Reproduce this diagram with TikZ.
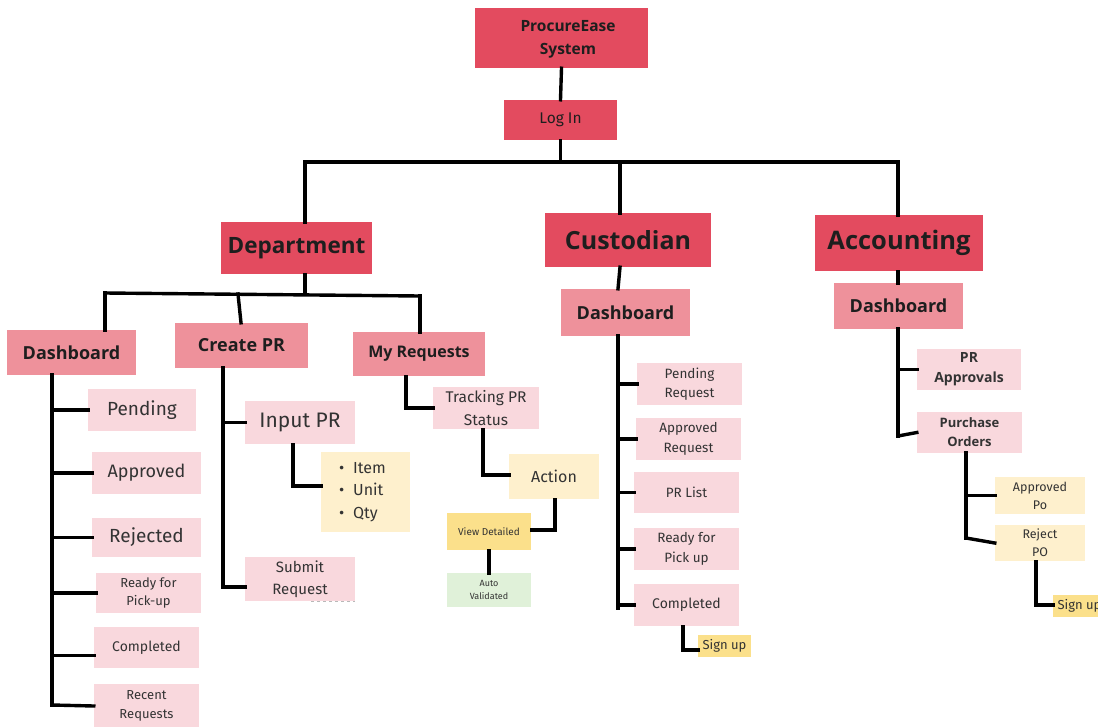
\documentclass[tikz,border=0pt]{standalone}
\usepackage{fontspec}
\setmainfont{Fira Sans}
\newfontfamily\headfont{Open Sans}
\definecolor{topc}{HTML}{E34B5F}
\definecolor{midc}{HTML}{EE919B}
\definecolor{leafc}{HTML}{F9D8DD}
\definecolor{notec}{HTML}{FEF0CD}
\definecolor{goldc}{HTML}{FBE08B}
\definecolor{okc}{HTML}{E0F1D9}
\definecolor{inkc}{HTML}{1E1E1E}
\definecolor{softink}{HTML}{333333}
\newcommand\fsz[1]{\fontsize{#1}{\dimexpr #1pt*29/20\relax}\selectfont}
\tikzset{
  box/.style={rectangle, inner sep=0pt, align=center, text=softink},
  topbox/.style={box, fill=topc, text=inkc},
  midbox/.style={box, fill=midc, text=inkc},
  leafbox/.style={box, fill=leafc},
  notebox/.style={box, fill=notec},
  goldbox/.style={box, fill=goldc},
  okbox/.style={box, fill=okc},
  conn/.style={draw=black, line width=3.4pt, line cap=rect, line join=miter},
  hd/.style={font=\headfont\bfseries\fsz{#1}},
  tx/.style={font=\fsz{#1}},
  lst/.style={font=\fontsize{16}{22.5}\selectfont}
}
\begin{document}
\begin{tikzpicture}[x=1pt,y=-1pt]
\useasboundingbox (0,0) rectangle (1098,726);
\clip (0,0) rectangle (1098,726);

% ---- top of the tree ----
\node[topbox, hd=15.5, minimum width=173, minimum height=60] (sys) at (561.5,38) {};
\node[font=\headfont\bfseries\fontsize{15.5}{23}\selectfont, text=inkc, align=center, inner sep=0pt] (systxt) at (568,39) {ProcureEase\\System};
\node[topbox, tx=15.5, minimum width=113, minimum height=40] (login) at (560.5,120) {Log In};

\node[topbox, hd=22.5, minimum width=151, minimum height=52] (dept) at (296.5,248) {Department};
\node[topbox, hd=25, minimum width=166, minimum height=54] (cust) at (628,240) {Custodian};
\node[topbox, hd=25.5, minimum width=168, minimum height=56] (acct) at (899,243) {Accounting};

\coordinate (barL) at (305,162);
\coordinate (barR) at (898,162);
\draw[conn] (sys.south) -- (login.north);
\draw[conn] (login.south) -- (login.south |- barL);
\draw[conn] (barL) -- (barR);
\draw[conn] (barL) -- (barL |- dept.north);
\draw[conn] (cust.north -| 620,0) -- (620,162);
\draw[conn] (barR) -- (barR |- acct.north);

% ---- Department ----
\node[midbox, hd=18, minimum width=129, minimum height=45] (ddash) at (71.5,352.5) {Dashboard};
\node[midbox, hd=18, minimum width=133, minimum height=45] (cpr) at (241.5,345.5) {Create PR};
\node[midbox, hd=16, minimum width=132, minimum height=44] (myreq) at (419,354) {My Requests};

\coordinate (dbL) at (105,293);
\coordinate (dbR) at (420,296);
\draw[conn] (dept.south -| barL) -- (305,294);
\draw[conn] (dbL) -- (dbR);
\draw[conn] (dbL) -- (dbL |- ddash.north);
\draw[conn] (238,294) -- (cpr.north -| 241,0);
\draw[conn] (dbR) -- (dbR |- myreq.north);

% Department dashboard entries
\node[leafbox, tx=19, minimum width=108, minimum height=42] (pend) at (142,410) {Pending};
\node[leafbox, tx=18, minimum width=109, minimum height=42] (appr) at (146.5,473) {Approved};
\node[leafbox, tx=19, minimum width=109, minimum height=39] (rej) at (146.5,537.5) {Rejected};
\node[leafbox, tx=13, minimum width=105, minimum height=40] (ready) at (148.5,593) {Ready for\\Pick-up};
\node[leafbox, tx=14, minimum width=105, minimum height=41] (compl) at (146.5,647.5) {Completed};
\node[leafbox, tx=13, minimum width=105, minimum height=44] (recent) at (146.5,706) {Recent\\Requests};

\coordinate (dv) at (52,375);
\draw[conn] (dv) -- (52,705);
\draw[conn] (pend.west) -- (pend.west -| dv);
\draw[conn] (appr.west) -- (appr.west -| dv);
\draw[conn] (rej.west) -- (rej.west -| dv);
\draw[conn] (ready.west) -- (ready.west -| dv);
\draw[conn] ([yshift=-8pt]compl.west) -- ([yshift=-8pt]compl.west -| dv);
\draw[conn] (recent.west) -- (52,705);

% Create PR entries
\node[leafbox, tx=21, minimum width=110, minimum height=43] (inpr) at (300,422.5) {Input PR};
\node[leafbox, tx=15, minimum width=110, minimum height=44] (submit) at (300,579) {Submit\\Request};
\node[notebox, lst, minimum width=89, minimum height=80, text width=69pt, inner xsep=10pt, align=left] (items) at (365.5,492)
  {\hspace*{8pt}\textbullet\hspace{9pt}Item\\\hspace*{8pt}\textbullet\hspace{9pt}Unit\\\hspace*{8pt}\textbullet\hspace{9pt}Qty};
\draw[gray!55, dashed, line width=0.6pt] ([xshift=-44pt]submit.south east) -- (submit.south east);

\coordinate (cv) at (223,368);
\draw[conn] (cv) -- (223,587);
\draw[conn] (inpr.west) -- (inpr.west -| cv);
\draw[conn] ([yshift=-8pt]submit.west) -- (223,587);
\draw[conn] (inpr.south -| 293,0) |- (items.west |- 0,486);

% My Requests entries
\node[leafbox, tx=15.5, minimum width=106, minimum height=42] (track) at (486,408) {Tracking PR\\Status};
\node[notebox, tx=16, minimum width=90, minimum height=45] (action) at (554,476.5) {Action};
\node[goldbox, tx=10, minimum width=84, minimum height=37] (view) at (489,531.5) {View Detailed};
\node[okbox, tx=9, minimum width=84, minimum height=34] (auto) at (489,590) {Auto\\Validated};

\draw[conn] (myreq.south -| 406,0) |- (track.west);
\draw[conn] (track.south -| 483,0) |- (action.west |- 0,475);
\draw[conn] (action.south -| 555,0) |- (view.east |- 0,530);
\draw[conn] (view.south) -- (auto.north);

% ---- Custodian ----
\node[midbox, hd=18, minimum width=129, minimum height=47] (cdash) at (625.5,312.5) {Dashboard};
\draw[conn] (cust.south -| 620,0) -- (cdash.north -| 618,0);

\node[leafbox, tx=13.5, minimum width=105, minimum height=42] (cpend) at (689.5,384) {Pending\\Request};
\node[leafbox, tx=13.5, minimum width=105, minimum height=42] (cappr) at (688.5,439) {Approved\\Request};
\node[leafbox, tx=13.5, minimum width=105, minimum height=41] (clist) at (686.5,492.5) {PR List};
\node[leafbox, tx=13.5, minimum width=105, minimum height=42] (cready) at (686.5,549) {Ready for\\Pick up};
\node[leafbox, tx=14, minimum width=105, minimum height=42] (ccompl) at (686.5,605) {Completed};
\node[goldbox, tx=13, minimum width=53, minimum height=22] (csign) at (724.5,646) {Sign up};

\coordinate (cv2) at (618,336);
\draw[conn] (cv2) -- (618,608);
\draw[conn] (cpend.west) -- (cpend.west -| cv2);
\draw[conn] (cappr.west) -- (cappr.west -| cv2);
\draw[conn] (clist.west) -- (clist.west -| cv2);
\draw[conn] (cready.west) -- (cready.west -| cv2);
\draw[conn] (ccompl.west) -- (ccompl.west -| cv2);
\draw[conn] (ccompl.south -| 683,0) |- (csign.west |- 0,650);

% ---- Accounting ----
\node[midbox, hd=18, minimum width=129, minimum height=46] (adash) at (898.5,306) {Dashboard};
\draw[conn] (acct.south -| barR) -- (adash.north -| barR);

\node[leafbox, hd=14, minimum width=104, minimum height=41] (aprap) at (969,369.5) {PR\\Approvals};
\node[leafbox, hd=13, minimum width=105, minimum height=41] (apo) at (969.5,432.5) {Purchase\\Orders};
\node[notebox, tx=12.5, minimum width=90, minimum height=37] (apoa) at (1040,495.5) {Approved\\Po};
\node[notebox, tx=12.5, minimum width=90, minimum height=36] (apor) at (1040,543) {Reject\\PO};
\node[goldbox, tx=13, minimum width=53, minimum height=22] (asign) at (1079.5,606) {Sign up};

\coordinate (av) at (898,329);
\draw[conn] (av) -- (898,436);
\draw[conn] (aprap.west) -- (aprap.west -| av);
\draw[conn] (apo.west) -- (898,436);
\coordinate (pv) at (966,453);
\draw[conn] (pv) -- (966,538);
\draw[conn] (apoa.west) -- (apoa.west -| pv);
\draw[conn] (966,538) -- (apor.west);
\draw[conn] (apor.south -| 1036,0) |- (asign.west |- 0,605);
\end{tikzpicture}
\end{document}
